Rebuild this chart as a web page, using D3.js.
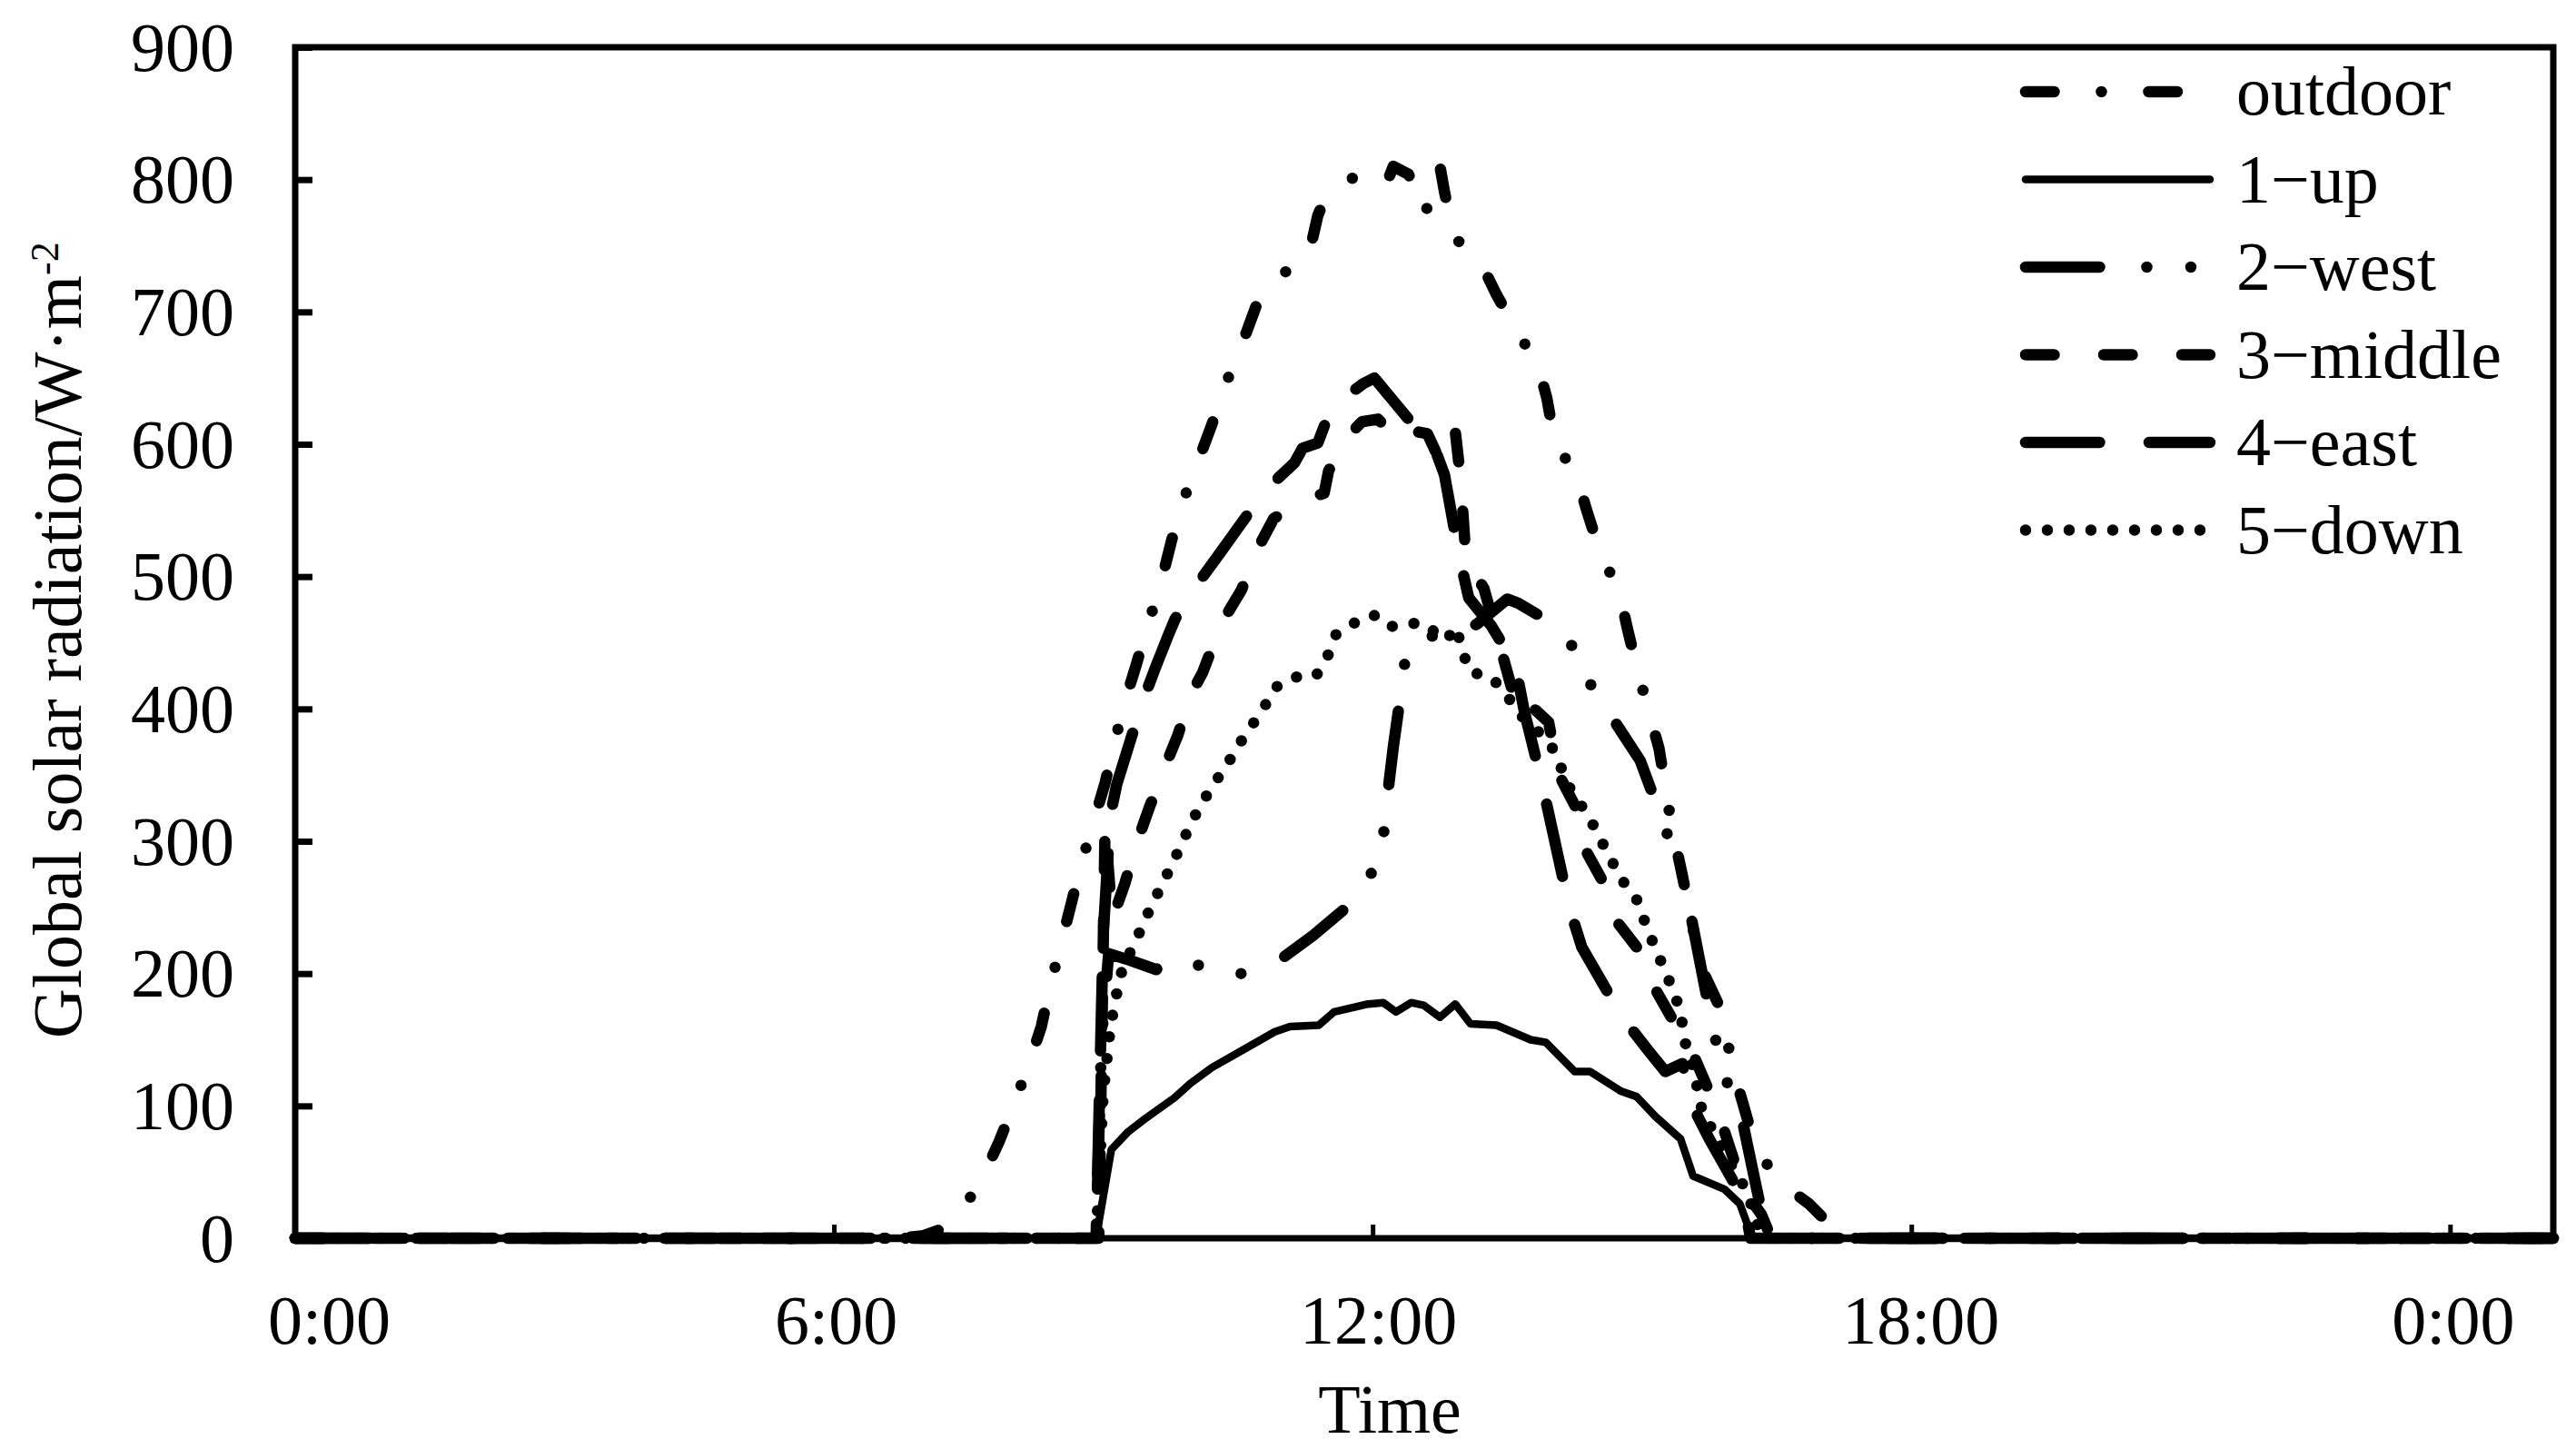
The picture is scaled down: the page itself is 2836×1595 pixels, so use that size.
<!DOCTYPE html>
<html><head><meta charset="utf-8">
<script src="https://cdn.jsdelivr.net/npm/d3@7"></script>
<style>
html,body{margin:0;padding:0;background:#fff;}
svg{display:block;}
text{font-family:"Liberation Serif","Times New Roman",serif;fill:#000;}
</style></head><body>
<svg id="chart" width="2836" height="1595"></svg>
<script>
// ---------- data ----------
const seriesNames = ["outdoor", "1\u2212up", "2\u2212west", "3\u2212middle", "4\u2212east", "5\u2212down"];
const xTickHours = [0, 6, 12, 18, 24];
const xTickLabels = ["0:00", "6:00", "12:00", "18:00", "0:00"];
const yTicks = [0, 100, 200, 300, 400, 500, 600, 700, 800, 900];

// [hour, W/m2]
const outdoor = [[0,0],[6.75,0],[7.0,2],[7.2,7],[7.36,15],[7.63,42],[7.84,73],[7.98,97],[8.16,129],[8.31,160],[8.4,188],[8.52,220],[8.64,252],[8.74,279],[8.88,312],[9.02,344],[9.11,370],[9.23,403],[9.37,434],[9.49,462],[9.63,492],[9.76,527],[9.86,552],[10.04,584],[10.21,615],[10.33,640],[10.52,671],[10.7,704],[10.77,715],[10.92,726],[11.28,740],[11.39,773],[11.46,784],[11.6,795],[11.95,807],[12.16,798],[12.23,810],[12.4,804],[12.58,774],[12.7,795],[12.75,810],[12.8,791],[12.9,757],[13.2,738],[13.38,713],[13.61,685],[13.84,660],[13.94,635],[14.03,601],[14.27,577],[14.38,551],[14.53,519],[14.75,488],[14.83,463],[14.95,429],[15.08,397],[15.19,370],[15.27,337],[15.33,312],[15.45,274],[15.65,206],[15.85,177],[16.06,117],[16.25,72],[16.5,44],[16.86,26],[17.2,3],[17.4,0],[25.15,0]];
const up1 = [[0,0],[8.92,0],[9.09,67],[9.27,80],[9.48,91],[9.79,106],[9.97,117],[10.21,129],[10.6,144],[10.91,156],[11.08,160],[11.4,161],[11.57,171],[11.95,177],[12.12,178],[12.26,171],[12.43,178],[12.57,176],[12.75,167],[12.92,177],[13.09,162],[13.38,161],[13.76,150],[13.93,148],[14.25,126],[14.42,126],[14.77,111],[14.94,107],[15.15,92],[15.43,75],[15.57,47],[15.92,37],[16.09,26],[16.23,0],[25.15,0]];
const west2 = [[0,0],[8.92,0],[8.98,150],[9.06,215],[9.3,210],[9.59,203],[9.72,212],[10.49,199],[10.94,209],[11.34,229],[11.71,250],[11.88,263],[12.06,285],[12.12,304],[12.17,337],[12.23,371],[12.3,405],[12.37,441],[12.57,455],[12.75,455],[12.82,453],[13.16,464],[13.5,483],[13.62,480],[13.92,468],[14.18,452],[14.38,430],[14.44,416],[14.71,389],[14.98,361],[15.15,330],[15.45,274],[15.55,242],[15.8,155],[16.0,105],[16.13,85],[16.3,30],[16.44,0],[25.15,0]];
const middle3 = [[0,0],[8.95,0],[9.02,312],[9.1,241],[9.24,268],[9.37,298],[9.51,325],[9.68,355],[9.83,380],[9.97,410],[10.11,428],[10.31,464],[10.54,490],[10.71,520],[10.9,544],[11.29,559],[11.46,563],[11.51,580],[11.71,605],[11.88,617],[12.06,619],[12.27,604],[12.37,611],[12.61,608],[12.76,586],[12.92,610],[12.98,574],[13.04,513],[13.24,491],[13.45,440],[13.62,398],[13.72,405],[13.96,390],[14.07,351],[14.26,326],[14.35,296],[14.56,270],[14.7,241],[14.94,220],[15.15,188],[15.36,163],[15.5,150],[15.85,95],[16.13,37],[16.33,18],[16.44,0],[25.15,0]];
const east4 = [[0,0],[8.92,0],[9.0,230],[9.08,320],[9.15,343],[9.42,402],[9.58,431],[9.72,455],[9.8,468],[9.98,488],[10.26,514],[10.8,565],[11.13,586],[11.22,597],[11.39,601],[11.53,626],[11.66,634],[11.9,646],[12.02,650],[12.4,619],[12.63,608],[12.8,577],[12.96,517],[13.07,484],[13.32,463],[13.59,433],[13.69,398],[13.89,343],[14.0,309],[14.19,250],[14.33,220],[14.78,167],[15.08,141],[15.26,126],[15.45,132],[15.57,99],[15.75,75],[16.0,45],[16.13,28],[16.21,0],[25.15,0]];
const down5 = [[0,0],[8.92,0],[9.0,110],[9.08,160],[9.15,185],[9.22,206],[9.34,221],[9.44,237],[9.55,253],[9.66,268],[9.77,283],[9.88,299],[9.98,314],[10.1,329],[10.24,344],[10.38,358],[10.51,373],[10.65,387],[10.79,401],[10.91,416],[11.13,424],[11.37,425],[11.5,440],[11.59,456],[11.8,465],[12.01,471],[12.19,462],[12.34,464],[12.55,465],[12.82,452],[12.93,462],[13.0,444],[13.08,428],[13.32,424],[13.49,411],[13.62,397],[13.97,375],[14.08,359],[14.17,343],[14.42,317],[14.54,301],[14.65,287],[14.76,272],[14.93,258],[15.01,243],[15.1,227],[15.2,211],[15.3,195],[15.39,179],[15.45,162],[15.49,145],[15.57,129],[15.67,96],[15.8,80],[16.0,55],[16.13,40],[16.25,20],[16.32,0],[25.15,0]];

const seriesData = [outdoor, up1, west2, middle3, east4, down5];

// ---------- styles ----------
const styles = [
  {w: 12.5, dash: "31.5,52,0,52"},
  {w: 8.5,  dash: null},
  {w: 12.5, dash: "81.5,52,0,48.5,0,52"},
  {w: 12.5, dash: "31.5,54.5"},
  {w: 12.5, dash: "81.5,54.5"},
  {w: 12.5, dash: "0,24"}
];

const svg = d3.select("#chart");
const L = 325, R = 2811, T = 52, B = 1363;
const x = d3.scaleLinear().domain([0, 25.15]).range([L, R]);
const y = d3.scaleLinear().domain([0, 900]).range([B, T]);

const line = d3.line().x(d => x(d[0])).y(d => y(d[1]));

// lines
seriesData.forEach((data, i) => {
  svg.append("path")
    .datum(data)
    .attr("d", line)
    .attr("fill", "none")
    .attr("stroke", "#000")
    .attr("stroke-width", styles[i].w)
    .attr("stroke-linecap", "round")
    .attr("stroke-linejoin", "round")
    .attr("stroke-dasharray", styles[i].dash);
});

// y axis
const yAxis = svg.append("g")
  .attr("transform", `translate(${L},0)`)
  .call(d3.axisLeft(y).tickValues(yTicks).tickSize(-19).tickPadding(67).tickFormat(d3.format("d")));
yAxis.select(".domain").remove();
yAxis.selectAll(".tick line").attr("stroke", "#000").attr("stroke-width", 7);
yAxis.selectAll(".tick text").attr("font-size", 76).attr("font-family", "Liberation Serif, Times New Roman, serif").attr("dy", "0.33em");

// x axis
const xAxis = svg.append("g")
  .attr("transform", `translate(0,${B})`)
  .call(d3.axisBottom(x).tickValues(xTickHours).tickSize(-15).tickPadding(62).tickFormat((d, i) => xTickLabels[i]));
xAxis.select(".domain").remove();
xAxis.selectAll(".tick line").attr("stroke", "#000").attr("stroke-width", 5);
const xOffsets = [37, 2, 6, 10, 3];
xAxis.selectAll(".tick text").attr("font-size", 76).attr("font-family", "Liberation Serif, Times New Roman, serif")
  .attr("x", (d, i) => xOffsets[i]);

// frame
svg.append("rect")
  .attr("x", L).attr("y", T).attr("width", R - L).attr("height", B - T)
  .attr("fill", "none").attr("stroke", "#000").attr("stroke-width", 7);

// axis titles
svg.append("text").attr("x", 1530).attr("y", 1577).attr("text-anchor", "middle")
  .attr("font-size", 76).text("Time");

const yt = svg.append("text")
  .attr("transform", "translate(89,1143) rotate(-90)")
  .attr("text-anchor", "start").attr("font-size", 76);
yt.append("tspan").text("Global solar radiation/W\u00B7m");
yt.append("tspan").attr("dy", -25).attr("font-size", 44).text("-2");

// legend
const legX0 = 2230, legX1 = 2433, legTextX = 2462, legY0 = 101, legStep = 96.5;
seriesNames.forEach((name, i) => {
  const yy = legY0 + i * legStep;
  svg.append("path")
    .attr("d", d3.line()([[legX0, yy], [legX1, yy]]))
    .attr("fill", "none").attr("stroke", "#000")
    .attr("stroke-width", styles[i].w)
    .attr("stroke-linecap", "round")
    .attr("stroke-dasharray", styles[i].dash);
  svg.append("text").attr("x", legTextX).attr("y", yy + 25)
    .attr("font-size", 76).text(name);
});
</script>
</body></html>
